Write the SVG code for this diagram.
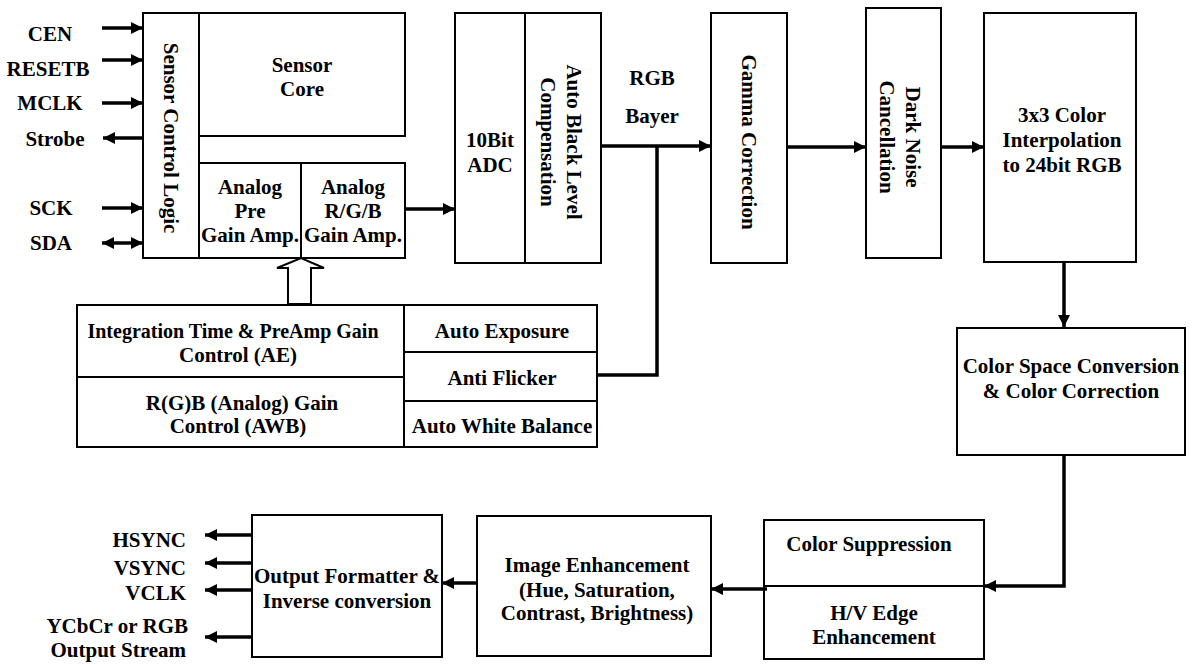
<svg xmlns="http://www.w3.org/2000/svg" width="1192" height="665" viewBox="0 0 1192 665" font-family="'Liberation Serif', 'DejaVu Serif', serif">
<style>
text{font-family:"Liberation Serif","DejaVu Serif",serif;font-weight:bold;font-size:21px;fill:#000}
.c{text-anchor:middle}
.r{text-anchor:end}
.s20{font-size:20px}
.box{fill:#fff;stroke:#000;stroke-width:2}
.ln{fill:none;stroke:#000;stroke-width:2}
.w{fill:none;stroke:#000;stroke-width:3.5}
</style>
<defs>
<marker id="ah" markerUnits="userSpaceOnUse" markerWidth="14" markerHeight="12" refX="12" refY="6" orient="auto-start-reverse" viewBox="0 0 14 12">
<path d="M0,0 L12,6 L0,12 Z" fill="#000"/>
</marker>
</defs>
<rect width="1192" height="665" fill="#fff"/>

<g id="sensor-control-logic">
<rect class="box" x="143" y="13" width="56" height="245"/>
<text class="c" transform="translate(164,138) rotate(90)">Sensor Control Logic</text>
</g>
<g id="sensor-core">
<rect class="box" x="199" y="13" width="206" height="123"/>
<text class="c" x="302" y="72">Sensor</text>
<text class="c" x="302" y="96">Core</text>
</g>
<g id="analog-pre">
<rect class="box" x="199" y="163" width="102" height="95"/>
<text class="c" x="250" y="194">Analog</text>
<text class="c" x="250" y="218">Pre</text>
<text class="c" x="250" y="242">Gain Amp.</text>
</g>
<g id="analog-rgb">
<rect class="box" x="301" y="163" width="104" height="95"/>
<text class="c" x="353" y="194">Analog</text>
<text class="c" x="353" y="218">R/G/B</text>
<text class="c" x="353" y="242">Gain Amp.</text>
</g>
<g id="adc">
<rect class="box" x="455" y="13" width="70" height="250"/>
<text class="c" x="490" y="147">10Bit</text>
<text class="c" x="490" y="172">ADC</text>
</g>
<g id="ablc">
<rect class="box" x="525" y="13" width="76" height="250"/>
<text class="c" transform="translate(567,142) rotate(90)">Auto Black Level</text>
<text class="c" transform="translate(541,142) rotate(90)">Compensation</text>
</g>
<g id="gamma">
<rect class="box" x="711" y="13" width="76" height="250"/>
<text class="c" transform="translate(742,142) rotate(90)">Gamma Correction</text>
</g>
<g id="dark-noise">
<rect class="box" x="866" y="8" width="75" height="250"/>
<text class="c" transform="translate(906,137) rotate(90)">Dark Noise</text>
<text class="c" transform="translate(880,137) rotate(90)">Cancellation</text>
</g>
<g id="interp">
<rect class="box" x="984" y="13" width="152" height="249"/>
<text class="c" x="1062" y="122">3x3 Color</text>
<text class="c" x="1062" y="147">Interpolation</text>
<text class="c" x="1062" y="172">to 24bit RGB</text>
</g>
<g id="csc">
<rect class="box" x="957" y="328" width="228" height="127"/>
<text class="c" x="1071" y="373">Color Space Conversion</text>
<text class="c" x="1071" y="398">&amp; Color Correction</text>
</g>
<g id="hv-edge">
<rect class="box" x="764" y="520" width="220" height="139"/>
<line class="ln" x1="764" y1="586" x2="984" y2="586"/>
<text class="c" x="869" y="551">Color Suppression</text>
<text class="c" x="874" y="620">H/V Edge</text>
<text class="c" x="874" y="644">Enhancement</text>
</g>
<g id="image-enh">
<rect class="box" x="477" y="516" width="234" height="140"/>
<text class="c" x="597" y="572">Image Enhancement</text>
<text class="c" x="597" y="597">(Hue, Saturation,</text>
<text class="c" x="597" y="620">Contrast, Brightness)</text>
</g>
<g id="output-fmt">
<rect class="box" x="252" y="515" width="190" height="142"/>
<text class="c" x="347" y="583">Output Formatter &amp;</text>
<text class="c" x="347" y="608">Inverse conversion</text>
</g>
<g id="ae-control">
<rect class="box" x="77" y="305" width="327" height="72"/>
<text class="c s20" x="233" y="338">Integration Time &amp; PreAmp Gain</text>
<text class="c" x="238" y="362">Control (AE)</text>
</g>
<g id="awb-control">
<rect class="box" x="77" y="377" width="327" height="70"/>
<text class="c" x="242" y="410">R(G)B (Analog) Gain</text>
<text class="c" x="238" y="433">Control (AWB)</text>
</g>
<g id="auto-exposure">
<rect class="box" x="404" y="305" width="193" height="47"/>
<text class="c" x="502" y="338">Auto Exposure</text>
</g>
<g id="anti-flicker">
<rect class="box" x="404" y="352" width="193" height="49"/>
<text class="c" x="502" y="385">Anti Flicker</text>
</g>
<g id="awb">
<rect class="box" x="404" y="401" width="193" height="46"/>
<text class="c" x="502" y="433">Auto White Balance</text>
</g>

<g id="labels">
<text class="c" x="50" y="41">CEN</text>
<text class="c" x="48" y="76">RESETB</text>
<text class="c" x="50" y="110">MCLK</text>
<text class="c" x="55" y="146">Strobe</text>
<text class="c" x="51" y="215">SCK</text>
<text class="c" x="51" y="250">SDA</text>
<text class="c" x="652" y="85">RGB</text>
<text class="c" x="652" y="123">Bayer</text>
<text class="r" x="186" y="547">HSYNC</text>
<text class="r" x="186" y="575">VSYNC</text>
<text class="r" x="186" y="600">VCLK</text>
<text class="r" x="188" y="633">YCbCr or RGB</text>
<text class="r" x="186" y="657">Output Stream</text>
</g>

<g id="connectors">
<line class="w" x1="102" y1="28" x2="143" y2="28" marker-end="url(#ah)"/>
<line class="w" x1="102" y1="60" x2="143" y2="60" marker-end="url(#ah)"/>
<line class="w" x1="102" y1="103" x2="143" y2="103" marker-end="url(#ah)"/>
<line class="w" x1="143" y1="138" x2="103" y2="138" marker-end="url(#ah)"/>
<line class="w" x1="102" y1="208" x2="143" y2="208" marker-end="url(#ah)"/>
<line class="w" x1="102" y1="243" x2="143" y2="243" marker-start="url(#ah)" marker-end="url(#ah)"/>
<line class="w" x1="405" y1="209" x2="455" y2="209" marker-end="url(#ah)"/>
<line class="w" x1="601" y1="146" x2="711" y2="146" marker-end="url(#ah)"/>
<line class="w" x1="787" y1="147" x2="866" y2="147" marker-end="url(#ah)"/>
<line class="w" x1="941" y1="147" x2="984" y2="147" marker-end="url(#ah)"/>
<line class="w" x1="1064" y1="262" x2="1064" y2="327" marker-end="url(#ah)"/>
<polyline class="w" points="1064,455 1064,586 984,586" marker-end="url(#ah)"/>
<line class="w" x1="767" y1="589" x2="711" y2="589" marker-end="url(#ah)"/>
<line class="w" x1="477" y1="583" x2="442" y2="583" marker-end="url(#ah)"/>
<line class="w" x1="252" y1="535" x2="205" y2="535" marker-end="url(#ah)"/>
<line class="w" x1="252" y1="563" x2="205" y2="563" marker-end="url(#ah)"/>
<line class="w" x1="252" y1="590" x2="205" y2="590" marker-end="url(#ah)"/>
<line class="w" x1="252" y1="637" x2="205" y2="637" marker-end="url(#ah)"/>
<polyline class="w" points="597,375 657,375 657,146"/>
<polygon points="288,304 288,268 277,268 301,258 324,268 311,268 311,304" fill="#fff" stroke="#000" stroke-width="2"/>
</g>
</svg>
